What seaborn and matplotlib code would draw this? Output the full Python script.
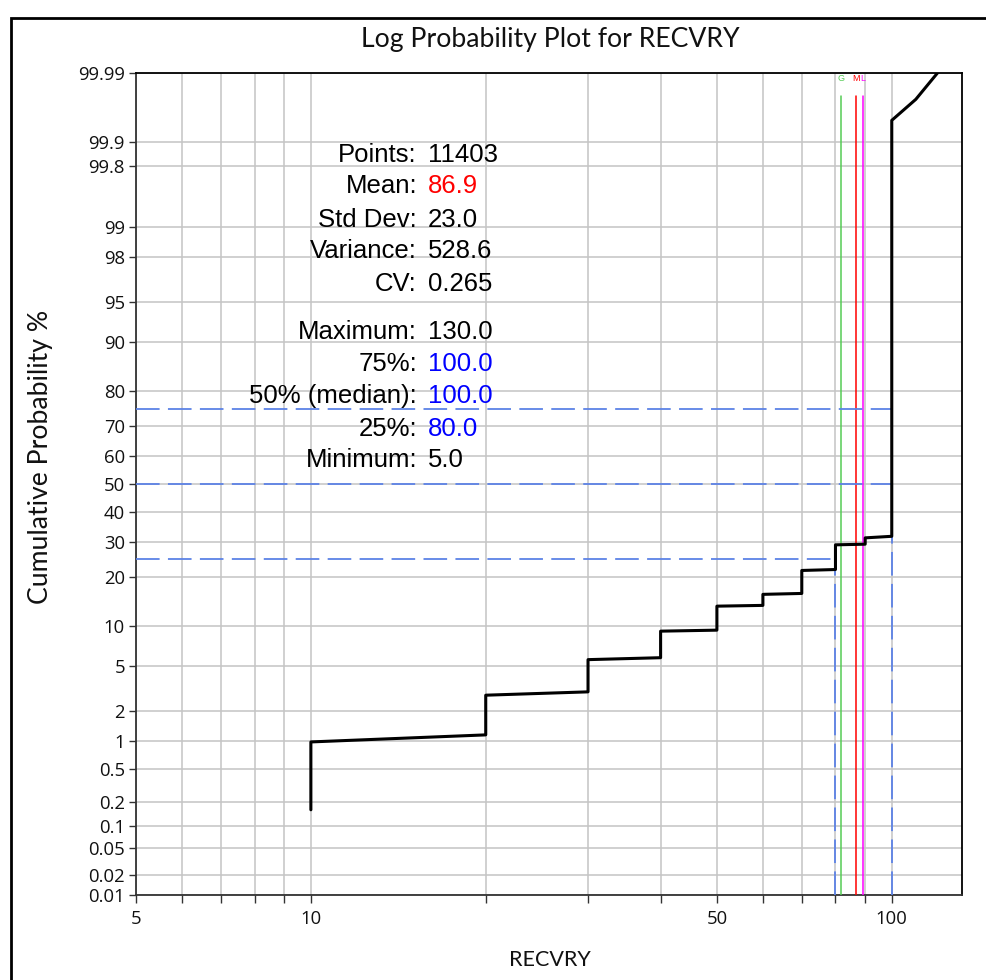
import numpy as np
import pandas as pd
import matplotlib
matplotlib.use("Agg")
import matplotlib.pyplot as plt
import matplotlib.patches as mpatches
import seaborn as sns
from statistics import NormalDist

# ---------------- data ----------------
curve_x = [10, 10, 20, 20, 30, 30, 40, 40, 50, 50, 60, 60, 70, 70, 80, 80, 90, 90, 100, 100, 110, 130]
curve_p = [0.16, 0.98, 1.16, 2.8, 3.0, 5.6, 5.8, 9.15, 9.3, 13.45, 13.6, 15.9, 16.1, 21.7,
           21.95, 29.1, 29.3, 31.3, 31.8, 99.95, 99.975, 99.996]

quart_pct = [25, 50, 75]
quart_val = [80.0, 100.0, 100.0]

stat_names = ["G", "M", "L"]
stat_vals = [81.9, 86.9, 89.3]
stat_colors = ["#55CC55", "#FF0000", "#FF00FF"]

y_ticks = [0.01, 0.02, 0.05, 0.1, 0.2, 0.5, 1, 2, 5, 10, 20, 30, 40, 50, 60, 70, 80, 90,
           95, 98, 99, 99.8, 99.9, 99.99]
y_ticklabels = ["0.01", "0.02", "0.05", "0.1", "0.2", "0.5", "1", "2", "5", "10", "20", "30",
                "40", "50", "60", "70", "80", "90", "95", "98", "99", "99.8", "99.9", "99.99"]
x_major = [5, 10, 50, 100]
x_major_labels = ["5", "10", "50", "100"]
x_minor = [6, 7, 8, 9, 20, 30, 40, 60, 70, 80, 90]

stat_labels = ["Points:", "Mean:", "Std Dev:", "Variance:", "CV:",
               "Maximum:", "75%:", "50% (median):", "25%:", "Minimum:"]
stat_values = ["11403", "86.9", "23.0", "528.6", "0.265",
               "130.0", "100.0", "100.0", "80.0", "5.0"]
stat_value_colors = ["black", "#FF0000", "black", "black", "black",
                     "black", "#0000FF", "#0000FF", "#0000FF", "black"]

# ---------------- style ----------------
sns.set_style("white")
plt.rcParams["font.family"] = ["Liberation Sans", "DejaVu Sans"]

W, H = 986, 980
fig = plt.figure(figsize=(W / 100, H / 100), dpi=100)
ax_l, ax_r, ax_t, ax_b = 136, 962, 73, 895
ax = fig.add_axes([ax_l / W, (H - ax_b) / H, (ax_r - ax_l) / W, (ax_b - ax_t) / H])

# outer frame (extends beyond image at right/bottom)
frame = mpatches.Rectangle((10.5 / W, -0.05), 1.2, (H - 17.5) / H + 0.05,
                           transform=fig.transFigure, fill=False, edgecolor="black",
                           linewidth=2.0, zorder=0)
fig.patches.append(frame)

df = pd.DataFrame({"x": curve_x, "p": curve_p})
sns.lineplot(data=df, x="x", y="p", sort=False, estimator=None, color="black",
             linewidth=2.2, ax=ax, zorder=5)

# probability scale on y
_nd = NormalDist()
_ppf = np.vectorize(_nd.inv_cdf, otypes=[float])
_cdf = np.vectorize(_nd.cdf, otypes=[float])


def fwd(p):
    p = np.clip(np.asarray(p, dtype=float) / 100.0, 1e-9, 1 - 1e-9)
    return _ppf(p)


def inv(z):
    return _cdf(np.asarray(z, dtype=float)) * 100.0


ax.set_xscale("log")
ax.set_yscale("function", functions=(fwd, inv))
ax.set_xlim(5, 132.1)
ax.set_ylim(0.01, 99.99)

# ticks
ax.set_yticks(y_ticks)
ax.set_yticklabels(y_ticklabels, fontfamily="Open Sans", fontsize=13.3, color="#111111")
ax.yaxis.set_minor_locator(matplotlib.ticker.NullLocator())
ax.set_xticks(x_major)
ax.set_xticklabels(x_major_labels, fontfamily="Open Sans", fontsize=13.3, color="#111111")
ax.set_xticks(x_minor, minor=True)
ax.xaxis.set_minor_formatter(matplotlib.ticker.NullFormatter())
ax.tick_params(axis="y", which="both", length=5, width=1, color="#333333", pad=3, direction="out", left=True)
ax.tick_params(axis="x", which="both", length=5.5, width=1, color="#333333", pad=5.5, direction="out", bottom=True)

ax.grid(True, which="both", axis="x", color="#C4C4C4", linewidth=1.1)
ax.grid(True, which="major", axis="y", color="#C4C4C4", linewidth=1.1)
ax.set_axisbelow(True)
for s in ax.spines.values():
    s.set_color("black")
    s.set_linewidth(1.3)
ax.spines["left"].set_color("#333333")
ax.spines["bottom"].set_color("#333333")

# quartile reference lines
blue = "#5C82E6"
lw_q = 1.3
dash = (0, (17 / lw_q, 6 / lw_q))
ymin = 0.01
for pct, val in zip(quart_pct, quart_val):
    ax.plot([5, val], [pct, pct], color=blue, linewidth=lw_q, linestyle=dash, zorder=4)
ax.plot([quart_val[0], quart_val[0]], [ymin, quart_pct[0]], color=blue, linewidth=lw_q,
        linestyle=dash, zorder=4)
ax.plot([quart_val[2], quart_val[2]], [ymin, quart_pct[2]], color=blue, linewidth=lw_q,
        linestyle=dash, zorder=4)

# G / M / L lines
top_frac = (ax_b - 96) / (ax_b - ax_t)
lab_frac = (ax_b - 78.5) / (ax_b - ax_t)
for name, v, c in zip(stat_names, stat_vals, stat_colors):
    ax.axvline(v, ymin=0, ymax=top_frac, color=c, linewidth=1.1, zorder=3)
    ax.text(v, lab_frac, name, transform=ax.get_xaxis_transform(), color=c,
            fontsize=6.5, ha="center", va="center", zorder=6)

# statistics text
baselines = [161.7, 193.3, 226.7, 258.3, 290.7, 339.3, 371, 403.3, 436, 467.3]
lab_x = (417 - ax_l) / (ax_r - ax_l)
val_x = (428 - ax_l) / (ax_r - ax_l)
for lab, val, col, b in zip(stat_labels, stat_values, stat_value_colors, baselines):
    yf = (ax_b - b) / (ax_b - ax_t)
    ax.text(lab_x, yf, lab, transform=ax.transAxes, ha="right", va="baseline",
            fontsize=18.5, color="black", zorder=7)
    ax.text(val_x, yf, val, transform=ax.transAxes, ha="left", va="baseline",
            fontsize=18.5, color=col, zorder=7)

ax.set_xlabel("")
ax.set_ylabel("")
fig.text(550 / W, 1 - 40 / H, "Log Probability Plot for RECVRY", ha="center", va="center",
         fontfamily="Lato", fontsize=19.2, color="#111111")
fig.text(550 / W, 1 - 960 / H, "RECVRY", ha="center", va="center",
         fontfamily="Lato", fontsize=15.5, color="#111111")
fig.text(41 / W, 1 - 457 / H, "Cumulative Probability %", ha="center", va="center",
         rotation=90, fontfamily="Lato", fontsize=19.2, color="#111111")

fig.savefig("out.png", dpi=100)
